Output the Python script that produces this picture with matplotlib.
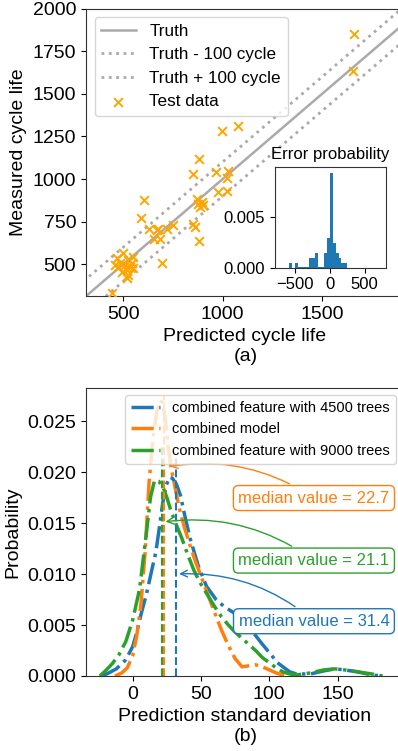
import numpy as np
import matplotlib
matplotlib.use("Agg")
import matplotlib.pyplot as plt

plt.rcParams['font.family'] = ['Liberation Sans', 'DejaVu Sans']

# ---------------- data: panel (a) ----------------
predicted = [1659, 1656, 1075, 994, 882, 849, 966, 1028, 1020, 977, 1023, 605,
             869, 894, 877, 902, 885, 589, 631, 676, 656, 684, 748, 852, 860,
             882, 693, 442, 500, 467, 550, 483, 509, 534, 517, 550, 492, 525,
             517, 475, 542, 458, 525, 668, 718]
measured = [1851, 1636, 1313, 1284, 1116, 1030, 1040, 1047, 1008, 922, 932, 876,
            883, 867, 854, 848, 838, 773, 707, 707, 650, 647, 732, 736, 717,
            639, 509, 333, 568, 535, 545, 506, 496, 486, 467, 477, 457, 437,
            421, 482, 509, 496, 525, 701, 705]
truth_range = [300, 2000]
band = 100

hist_edges = [-582.5 + 41.7 * k for k in range(21)]
hist_density = [0.00049, 0, 0.00049, 0.00005, 0.00005, 0.00005, 0.00005,
                0.00098, 0.00098, 0.00147, 0.00005, 0.00005, 0.00147, 0.00294,
                0.0093, 0.00245, 0.00147, 0.00098, 0.00049, 0.00049]

# ---------------- data: panel (b) ----------------
blue_x = [-24, -19, -12, -5, 0, 3, 6, 10, 13, 17, 20, 22, 24.5, 27, 29, 32, 35,
          38, 42, 48, 54, 61, 67, 74, 80, 88, 95, 100, 106, 110, 115, 120, 130,
          140, 148, 155, 165, 175, 183]
blue_y = [0.0, 0.0002, 0.0007, 0.0016, 0.0029, 0.0043, 0.0060, 0.0080, 0.0098,
          0.0122, 0.0150, 0.0170, 0.0187, 0.0195, 0.0194, 0.0188, 0.0177, 0.0158,
          0.0135, 0.0108, 0.0088, 0.0075, 0.0068, 0.0062, 0.0053, 0.0043, 0.0031,
          0.0023, 0.0013, 0.0009, 0.0004, 0.0002, 0.0002, 0.0005, 0.0007, 0.0006,
          0.0004, 0.0001, 0.0]
orange_x = [-13, -8, -4, 0, 3, 6, 9, 12, 15, 18, 20, 22, 24, 26, 28, 31, 34, 38,
            42, 46, 50, 55, 60, 65, 70, 75, 80, 85, 90, 95, 100, 105, 110, 112]
orange_y = [0.0, 0.0003, 0.0008, 0.0020, 0.0040, 0.0070, 0.0120, 0.0190, 0.0235,
            0.0262, 0.0270, 0.0268, 0.0250, 0.0225, 0.0205, 0.0185, 0.0165,
            0.0145, 0.0128, 0.0112, 0.0098, 0.0080, 0.0062, 0.0045, 0.0030,
            0.0017, 0.0009, 0.0010, 0.0011, 0.0009, 0.0006, 0.0003, 0.0001, 0.0]
green_x = [-24, -20, -15, -10, -5, 0, 5, 10, 13, 16, 19, 22, 25, 28, 32, 36, 40,
           45, 50, 55, 60, 65, 70, 75, 80, 85, 90, 95, 100, 105, 110, 115, 120,
           130, 140, 148, 155, 165, 175, 183]
green_y = [0.0, 0.0005, 0.0012, 0.0021, 0.0034, 0.0055, 0.0085, 0.0140, 0.0175,
           0.0192, 0.0191, 0.0186, 0.0175, 0.0162, 0.0148, 0.0135, 0.0120, 0.0103,
           0.0090, 0.0079, 0.0068, 0.0058, 0.0050, 0.0043, 0.0037, 0.0031, 0.0025,
           0.0018, 0.0013, 0.0008, 0.0004, 0.0002, 0.0001, 0.0003, 0.0006, 0.0007,
           0.0006, 0.0004, 0.0002, 0.0]

series_labels = ['combined feature with 4500 trees', 'combined model',
                 'combined feature with 9000 trees']
medians = [31.4, 22.7, 21.1]
median_tops = [0.0215, 0.0275, 0.0225]
arrow_targets = [(32, 0.0100), (25, 0.0205), (22, 0.0151)]
text_y = [0.00537, 0.01745, 0.01132]
text_x = 132.7
colors = ['#1f77b4', '#ff7f0e', '#2ca02c']

# ---------------- figure ----------------
W, H = 398, 751
fig = plt.figure(figsize=(W / 100, H / 100), dpi=100)

def px_axes(l, t, r, b):
    return fig.add_axes([l / W, 1 - b / H, (r - l) / W, (b - t) / H])

spine_c = '#333333'

# panel (a)
ax1 = px_axes(86, 8.5, 403, 296)
ax1.plot(truth_range, truth_range, color='#aaaaaa', lw=1.8, label='Truth')
ax1.plot(truth_range, [v - band for v in truth_range], color='#aaaaaa', lw=2,
         ls=':', label='Truth - 100 cycle')
ax1.plot(truth_range, [v + band for v in truth_range], color='#aaaaaa', lw=2,
         ls=':', label='Truth + 100 cycle')
ax1.scatter(predicted, measured, marker='x', color='#ffa500', s=40, lw=1.4,
            label='Test data', zorder=3)
ax1.set_xlim(313, 1906)
ax1.set_ylim(314, 2000)
ax1.set_xticks([500, 1000, 1500])
ax1.set_yticks([500, 750, 1000, 1250, 1500, 1750, 2000])
ax1.tick_params(labelsize=14)
ax1.set_xlabel('Predicted cycle life', fontsize=14)
ax1.set_ylabel('Measured cycle life', fontsize=14)
ax1.legend(loc='upper left', fontsize=12.3)

axin = px_axes(275, 167.3, 385.7, 267.7)
axin.bar(hist_edges[:-1], hist_density, width=np.diff(hist_edges), align='edge',
         color='#1f77b4')
axin.set_xlim(-780, 800)
axin.set_ylim(0, 0.00984)
axin.set_xticks([-500, 0, 500])
axin.set_yticks([0, 0.005])
axin.set_yticklabels(['0.000', '0.005'])
axin.tick_params(labelsize=12)
axin.set_title('Error probability', fontsize=12)

# panel (b)
ax2 = px_axes(86, 388, 403, 676)
curves = [(blue_x, blue_y), (orange_x, orange_y), (green_x, green_y)]
for (cx, cy), lab, c in zip(curves, series_labels, colors):
    ax2.plot(cx, cy, color=c, lw=2.5, ls='-.', label=lab)
for m, top, c in zip(medians, median_tops, colors):
    ax2.vlines(m, 0, top, colors=c, linestyles='--', lw=1.5)
for m, (tx_, ty_), ty, c in zip(medians, arrow_targets, text_y, colors):
    ax2.annotate('median value = %.1f' % m, xy=(tx_, ty_), xytext=(text_x, ty),
                 ha='center', va='center', fontsize=12, color=c,
                 bbox=dict(boxstyle='round,pad=0.3', fc='white', ec=c),
                 arrowprops=dict(arrowstyle='->', color=c, lw=1,
                                 connectionstyle='arc3,rad=0.2'))
ax2.set_xlim(-34.2, 197.9)
ax2.set_ylim(0, 0.02824)
ax2.set_xticks([0, 50, 100, 150])
ax2.set_yticks([0, 0.005, 0.01, 0.015, 0.02, 0.025])
ax2.set_yticklabels(['0.000', '0.005', '0.010', '0.015', '0.020', '0.025'])
ax2.tick_params(labelsize=14)
ax2.set_xlabel('Prediction standard deviation', fontsize=14)
ax2.set_ylabel('Probability', fontsize=14)
ax2.legend(loc='upper right', fontsize=10.5)

for a in (ax1, axin, ax2):
    for s in a.spines.values():
        s.set_color(spine_c)

fig.text(246 / W, 1 - 356.7 / H, '(a)', fontsize=14, ha='center', va='center')
fig.text(246 / W, 1 - 736.7 / H, '(b)', fontsize=14, ha='center', va='center')

fig.savefig('out.png', dpi=100)
